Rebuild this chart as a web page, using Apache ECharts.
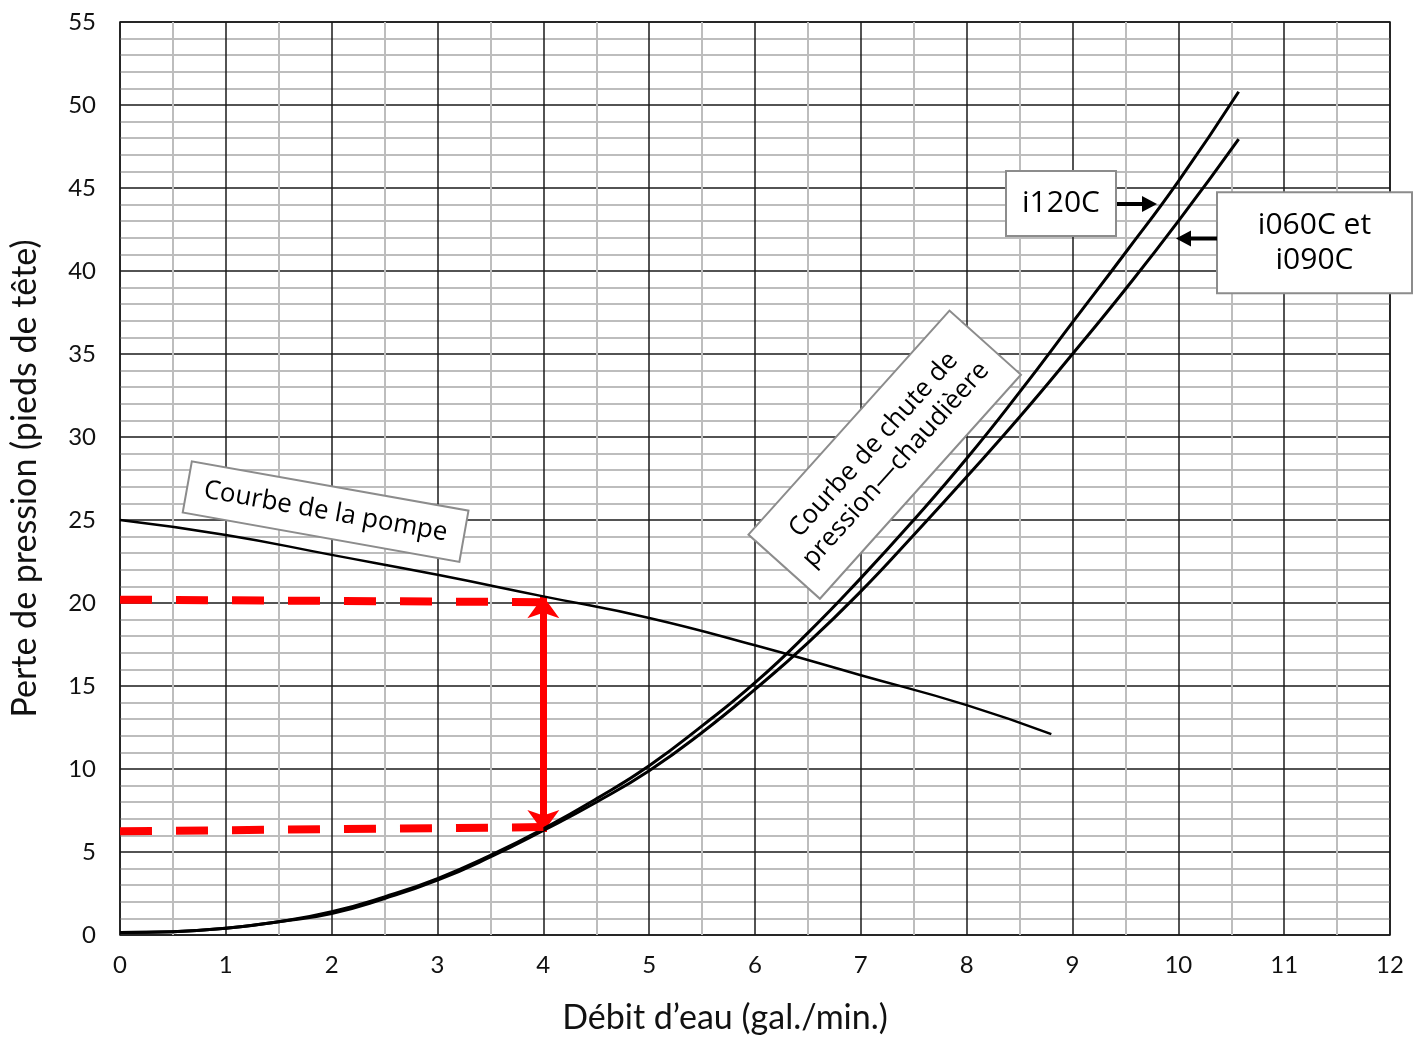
<!DOCTYPE html>
<html>
<head>
<meta charset="utf-8">
<script src="https://cdn.jsdelivr.net/npm/echarts@6/dist/echarts.min.js"></script>
<style>
  html, body { margin: 0; padding: 0; background: #fff; }
  #chart { width: 1417px; height: 1040px; }
</style>
</head>
<body>
<div id="chart"></div>
<script>
// courbes chaudière : débit (gal./min.) et perte de charge (pieds)
const boilerFlow = [0, 0.5, 1, 1.5, 2, 2.5, 3, 3.5, 4, 4.5, 5, 5.5, 6, 6.5, 7, 7.5, 8, 8.5, 9, 9.5, 10, 10.57]
const i120cHead = [0.15, 0.2, 0.4, 0.8, 1.4, 2.3, 3.4, 4.8, 6.4, 8.2, 10.2, 12.6, 15.2, 18.2, 21.5, 25.0, 28.7, 32.7, 36.9, 41.1, 45.4, 50.8]
const i060cHead = [0.15, 0.2, 0.4, 0.8, 1.3, 2.2, 3.3, 4.7, 6.3, 8.0, 9.9, 12.2, 14.8, 17.6, 20.7, 24.1, 27.6, 31.2, 35.0, 38.9, 43.0, 47.95]

// courbe de la pompe
const pumpFlow = [0, 1, 2, 3, 4, 5, 6, 7, 8, 8.8]
const pumpHead = [25.0, 24.1, 22.9, 21.7, 20.4, 19.1, 17.45, 15.65, 13.85, 12.1]

// lectures en pointillé rouge et flèche au débit de 4 gal./min.
const readFlow = [0, 4]
const readPumpHead = [20.2, 20.05]
const readBoilerHead = [6.25, 6.5]
const arrowFlow = 4
const arrowHeads = [20.4, 6.2]

const xTicks = [0, 12, 1]
const yTicks = [0, 55, 5]

const pairs = (xs, ys) => xs.map((x, i) => [x, ys[i]])

const axisFont = 'Lato, "Open Sans", sans-serif'
const noteFont = '"Open Sans", "Noto Sans", sans-serif'
const chart = echarts.init(document.getElementById('chart'))

function noteBox(cx, cy, w, h, angleDeg, text, size) {
  return {
    type: 'group',
    x: cx,
    y: cy,
    rotation: angleDeg * Math.PI / 180,
    children: [
      {
        type: 'rect',
        z: 100,
        shape: { x: -w / 2, y: -h / 2, width: w, height: h },
        style: { fill: '#fff', stroke: '#8c8c8c', lineWidth: 2 }
      },
      {
        type: 'text',
        z: 101,
        x: 0,
        y: 0,
        style: {
          text: text,
          fill: '#000',
          font: `${size}px ${noteFont}`,
          align: 'center',
          verticalAlign: 'middle',
          lineHeight: Math.round(size * 1.15)
        }
      }
    ]
  }
}

function arrowShape(x1, x2, y) {
  const dir = x2 > x1 ? 1 : -1
  const headLen = 15
  return {
    type: 'group',
    children: [
      {
        type: 'line',
        z: 100,
        shape: { x1: x1, y1: y, x2: x2 - dir * headLen, y2: y },
        style: { stroke: '#000', lineWidth: 4 }
      },
      {
        type: 'polygon',
        z: 100,
        shape: { points: [[x2, y], [x2 - dir * headLen, y - 8], [x2 - dir * headLen, y + 8]] },
        style: { fill: '#000' }
      }
    ]
  }
}

chart.setOption({
  animation: false,
  backgroundColor: '#fff',
  grid: {
    left: 120,
    right: 27,
    top: 22,
    bottom: 105,
    show: true,
    borderColor: '#111',
    borderWidth: 1.5
  },
  xAxis: {
    type: 'value',
    min: xTicks[0],
    max: xTicks[1],
    interval: xTicks[2],
    name: 'Débit d’eau (gal./min.)',
    nameLocation: 'middle',
    nameGap: 66,
    nameTextStyle: { fontFamily: axisFont, fontSize: 34, color: '#111', padding: [0, 60, 0, 0] },
    axisLine: { show: false },
    axisTick: { show: false },
    axisLabel: { fontFamily: axisFont, fontSize: 24, color: '#111', margin: 18 },
    splitLine: { lineStyle: { color: '#1a1a1a', width: 1.5 } },
    minorTick: { show: false, splitNumber: 2 },
    minorSplitLine: { show: true, lineStyle: { color: '#bdbdbd', width: 2 } }
  },
  yAxis: {
    type: 'value',
    min: yTicks[0],
    max: yTicks[1],
    interval: yTicks[2],
    name: 'Perte de pression (pieds de tête)',
    nameLocation: 'middle',
    nameGap: 78,
    nameTextStyle: { fontFamily: axisFont, fontSize: 34, color: '#111' },
    axisLine: { show: false },
    axisTick: { show: false },
    axisLabel: { fontFamily: axisFont, fontSize: 24, color: '#111', margin: 24 },
    splitLine: { lineStyle: { color: '#1a1a1a', width: 1.5 } },
    minorTick: { show: false, splitNumber: 5 },
    minorSplitLine: { show: true, lineStyle: { color: '#bdbdbd', width: 2 } }
  },
  series: [
    {
      name: 'i120C',
      type: 'line',
      smooth: 0.5,
      symbol: 'none',
      lineStyle: { color: '#000', width: 3 },
      data: pairs(boilerFlow, i120cHead),
      z: 5
    },
    {
      name: 'i060C et i090C',
      type: 'line',
      smooth: 0.5,
      symbol: 'none',
      lineStyle: { color: '#000', width: 3 },
      data: pairs(boilerFlow, i060cHead),
      z: 5
    },
    {
      name: 'Pompe',
      type: 'line',
      smooth: 0.5,
      symbol: 'none',
      lineStyle: { color: '#000', width: 2.5 },
      data: pairs(pumpFlow, pumpHead),
      z: 5
    },
    {
      name: 'Lecture pompe',
      type: 'line',
      symbol: 'none',
      lineStyle: { color: '#ff0000', width: 8, type: [32, 24], cap: 'butt' },
      data: pairs(readFlow, readPumpHead),
      z: 6
    },
    {
      name: 'Lecture chaudière',
      type: 'line',
      symbol: 'none',
      lineStyle: { color: '#ff0000', width: 8, type: [32, 24], cap: 'butt' },
      data: pairs(readFlow, readBoilerHead),
      z: 6,
      markLine: {
        silent: true,
        symbol: ['arrow', 'arrow'],
        symbolSize: [24, 22],
        label: { show: false },
        lineStyle: { color: '#ff0000', width: 7, type: 'solid' },
        data: [[{ coord: [arrowFlow, arrowHeads[0]] }, { coord: [arrowFlow, arrowHeads[1]] }]]
      }
    }
  ],
  graphic: [
    noteBox(325.6, 511.6, 281, 52, -10.1, 'Courbe de la pompe', 26),
    noteBox(884.7, 454.7, 301, 96, 48.1, 'Courbe de chute de\npression—chaudièere', 26),
    noteBox(1061, 203.5, 110, 65, 0, 'i120C', 30),
    noteBox(1314.5, 242.8, 195, 101, 0, 'i060C et\ni090C', 30),
    arrowShape(1117, 1157, 204),
    arrowShape(1217, 1176, 238.5)
  ]
})
</script>
</body>
</html>
